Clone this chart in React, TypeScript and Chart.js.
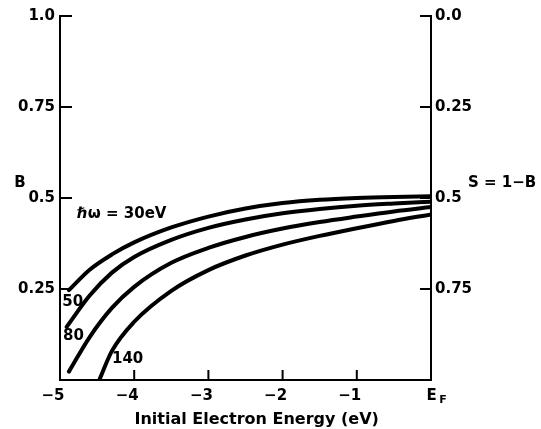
import React, { useEffect, useRef } from "react";
import { Chart, registerables } from "chart.js";

Chart.register(...registerables);

// Initial electron energy (eV, relative to E_F) and B values for each photon energy
const photonEnergies = ["30", "50", "80", "140"];

const energy30 = [-4.88, -4.6, -4.3, -4.0, -3.5, -3.0, -2.5, -2.0, -1.5, -1.0, -0.5, 0];
const bulk30 = [0.247, 0.303, 0.345, 0.378, 0.419, 0.449, 0.471, 0.486, 0.495, 0.5, 0.503, 0.505];

const energy50 = [-4.91, -4.6, -4.3, -4.0, -3.5, -3.0, -2.5, -2.0, -1.5, -1.0, -0.5, 0];
const bulk50 = [0.146, 0.232, 0.295, 0.338, 0.385, 0.418, 0.441, 0.458, 0.47, 0.479, 0.485, 0.49];

const energy80 = [-4.88, -4.6, -4.3, -4.0, -3.5, -3.0, -2.5, -2.0, -1.5, -1.0, -0.5, 0];
const bulk80 = [0.023, 0.118, 0.198, 0.256, 0.322, 0.363, 0.393, 0.416, 0.434, 0.449, 0.463, 0.475];

const energy140 = [-4.47, -4.3, -4.0, -3.5, -3.0, -2.5, -2.0, -1.5, -1.0, -0.5, 0];
const bulk140 = [0, 0.08, 0.16, 0.245, 0.302, 0.342, 0.372, 0.396, 0.417, 0.437, 0.455];

const xTickValues = [-5, -4, -3, -2, -1, 0];
const bTickValues = [0, 0.25, 0.5, 0.75, 1];
const bTickLabels = ["", "0.25", "0.5", "0.75", "1.0"];
const sTickValues = [0, 0.25, 0.5, 0.75, 1];
const sTickLabels = ["0.0", "0.25", "0.5", "0.75", ""];

const FONT = "'DejaVu Sans', sans-serif";

export default function App() {
  const ref = useRef<HTMLCanvasElement>(null);

  useEffect(() => {
    if (!ref.current) return;
    const series: [number[], number[]][] = [
      [energy30, bulk30],
      [energy50, bulk50],
      [energy80, bulk80],
      [energy140, bulk140],
    ];
    const datasets = series.map(([xs, ys], i) => ({
      label: photonEnergies[i],
      data: xs.map((x, j) => ({ x, y: ys[j] })),
      borderColor: "#000",
      borderWidth: 4,
      pointRadius: 0,
      fill: false,
      cubicInterpolationMode: "monotone" as const,
      borderCapStyle: "round" as const,
      xAxisID: "x",
      yAxisID: "y",
    }));

    const deco = {
      id: "deco",
      afterDraw(chart: any) {
        const ctx = chart.ctx;
        const x = chart.scales.x;
        const y = chart.scales.y;
        const s = chart.scales.s;
        const area = chart.chartArea;
        ctx.save();
        ctx.strokeStyle = "#000";
        ctx.lineWidth = 2;
        ctx.beginPath();
        // inward ticks
        [0.25, 0.5, 0.75, 1].forEach((v) => {
          const py = y.getPixelForValue(v);
          ctx.moveTo(area.left, py);
          ctx.lineTo(area.left + 12, py);
        });
        [0, 0.25, 0.5, 0.75].forEach((v) => {
          const py = s.getPixelForValue(v);
          ctx.moveTo(area.right, py);
          ctx.lineTo(area.right - 11, py);
        });
        [-4, -3, -2, -1].forEach((v) => {
          const px = x.getPixelForValue(v);
          ctx.moveTo(px, area.bottom);
          ctx.lineTo(px, area.bottom - 10);
        });
        ctx.stroke();

        ctx.fillStyle = "#000";
        ctx.textBaseline = "middle";
        ctx.font = `bold 15px ${FONT}`;
        ctx.textAlign = "left";
        ctx.fillText("\u210F\u03C9 = 30eV", x.getPixelForValue(-4.77), y.getPixelForValue(0.456));
        ctx.fillText(photonEnergies[1], x.getPixelForValue(-4.97), y.getPixelForValue(0.214));
        ctx.fillText(photonEnergies[2], x.getPixelForValue(-4.96), y.getPixelForValue(0.121));
        ctx.fillText(photonEnergies[3], x.getPixelForValue(-4.3), y.getPixelForValue(0.058));
        ctx.fillText("S = 1\u2212B", area.right + 37, y.getPixelForValue(0.54));
        ctx.textAlign = "center";
        ctx.fillText("B", area.left - 40, y.getPixelForValue(0.54));
        ctx.font = `bold 11px ${FONT}`;
        ctx.fillText("F", x.getPixelForValue(0) + 12, area.bottom + 20);
        ctx.restore();
      },
    };

    const tickFont = { family: FONT, size: 15, weight: "bold" as const };

    const chart = new Chart(ref.current, {
      type: "line",
      data: { datasets },
      options: {
        responsive: false,
        animation: false,
        layout: { padding: { top: 16, left: 0, right: 0, bottom: 0 } },
        plugins: { legend: { display: false }, tooltip: { enabled: false } },
        scales: {
          x: {
            type: "linear",
            min: -5,
            max: 0,
            afterBuildTicks: (sc: any) => {
              sc.ticks = xTickValues.map((v) => ({ value: v }));
            },
            afterFit: (sc: any) => {
              sc.height = 49;
            },
            grid: { display: false, drawTicks: false },
            border: { display: true, color: "#000", width: 2 },
            ticks: {
              color: "#000",
              font: tickFont,
              padding: 7,
              labelOffset: -7,
              maxRotation: 0,
              autoSkip: false,
              callback: (v: any) => (v === 0 ? "\u2003E" : "\u2212" + Math.abs(v)),
            },
            title: {
              display: true,
              text: "    Initial Electron Energy (eV)",
              color: "#000",
              font: { family: FONT, size: 16, weight: "bold" },
              padding: { top: 0, bottom: 0 },
            },
          },
          y: {
            type: "linear",
            position: "left",
            min: 0,
            max: 1,
            afterBuildTicks: (sc: any) => {
              sc.ticks = bTickValues.map((v) => ({ value: v }));
            },
            afterFit: (sc: any) => {
              sc.width = 60;
            },
            grid: { display: false, drawTicks: false },
            border: { display: true, color: "#000", width: 2 },
            ticks: {
              color: "#000",
              font: tickFont,
              padding: 5,
              callback: (v: any) => bTickLabels[bTickValues.indexOf(v)] ?? "",
            },
          },
          s: {
            type: "linear",
            position: "right",
            min: 0,
            max: 1,
            reverse: true,
            display: true,
            afterBuildTicks: (sc: any) => {
              sc.ticks = sTickValues.map((v) => ({ value: v }));
            },
            afterFit: (sc: any) => {
              sc.width = 110;
            },
            grid: { display: false, drawTicks: false },
            border: { display: true, color: "#000", width: 2 },
            ticks: {
              color: "#000",
              font: tickFont,
              padding: 4,
              callback: (v: any) => sTickLabels[sTickValues.indexOf(v)] ?? "",
            },
          },
        },
      },
      plugins: [deco],
    } as any);

    return () => chart.destroy();
  }, []);

  return (
    <div style={{ position: "absolute", left: 0, top: 0, width: 541, height: 429, background: "#fff" }}>
      <canvas ref={ref} width={541} height={429} />
    </div>
  );
}
